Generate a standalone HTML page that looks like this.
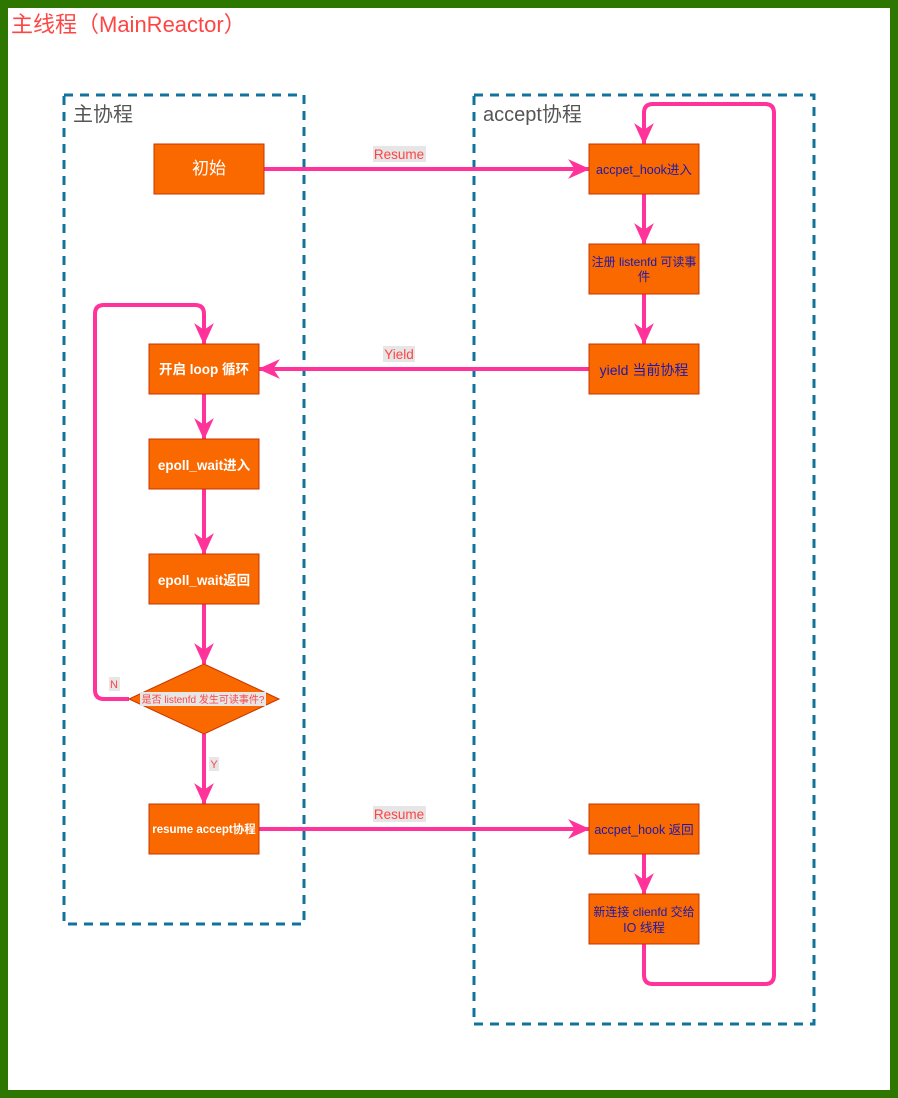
<!DOCTYPE html>
<html><head><meta charset="utf-8"><style>
html,body{margin:0;padding:0;background:#fff}
svg{display:block}
text{font-family:"Liberation Sans","Noto Sans CJK SC",sans-serif}
</style></head><body>
<svg width="898" height="1098" viewBox="0 0 898 1098" xmlns="http://www.w3.org/2000/svg">
<defs>
<marker id="a" viewBox="0 0 20 20" refX="19" refY="10" markerWidth="22" markerHeight="22" markerUnits="userSpaceOnUse" orient="auto">
<polygon points="0,1 20,10 0,19 6,10" fill="#FF3399"/>
</marker>
</defs>
<rect x="4" y="4" width="890" height="1090" fill="#fff" stroke="#2D7600" stroke-width="8"/>
<text x="11" y="32" font-size="22" fill="#FF4444">主线程（MainReactor）</text>

<rect x="64" y="95" width="240" height="829" fill="none" stroke="#10739E" stroke-width="3" stroke-dasharray="9,7"/>
<rect x="474" y="95" width="340" height="929" fill="none" stroke="#10739E" stroke-width="3" stroke-dasharray="9,7"/>
<text x="73" y="121" font-size="20" fill="#555">主协程</text>
<text x="483" y="121" font-size="20" fill="#555">accept协程</text>

<g fill="none" stroke="#FF3399" stroke-width="4" stroke-linejoin="round">
<path d="M264,169 H589" marker-end="url(#a)"/>
<path d="M644,194 V244" marker-end="url(#a)"/>
<path d="M644,294 V344" marker-end="url(#a)"/>
<path d="M589,369 H259" marker-end="url(#a)"/>
<path d="M204,394 V439" marker-end="url(#a)"/>
<path d="M204,489 V554" marker-end="url(#a)"/>
<path d="M204,604 V664" marker-end="url(#a)"/>
<path d="M204,734 V804" marker-end="url(#a)"/>
<path d="M259,829 H589" marker-end="url(#a)"/>
<path d="M644,854 V894" marker-end="url(#a)"/>
<path d="M129,699 H104 Q95,699 95,690 V314 Q95,305 104,305 H195 Q204,305 204,314 V344" marker-end="url(#a)"/>
<path d="M644,944 V975 Q644,984 653,984 H765 Q774,984 774,975 V113 Q774,104 765,104 H653 Q644,104 644,113 V144" marker-end="url(#a)"/>
</g>

<g fill="#FA6800" stroke="#C73500" stroke-width="1">
<rect x="154" y="144" width="110" height="50"/>
<rect x="589" y="144" width="110" height="50"/>
<rect x="589" y="244" width="110" height="50"/>
<rect x="589" y="344" width="110" height="50"/>
<rect x="149" y="344" width="110" height="50"/>
<rect x="149" y="439" width="110" height="50"/>
<rect x="149" y="554" width="110" height="50"/>
<polygon points="204,664 279,699 204,734 129,699"/>
<rect x="149" y="804" width="110" height="50"/>
<rect x="589" y="804" width="110" height="50"/>
<rect x="589" y="894" width="110" height="50"/>
</g>

<g font-size="17" fill="#fff" text-anchor="middle">
<text x="209" y="174">初始</text>
</g>
<g font-size="13.5" fill="#fff" text-anchor="middle" font-weight="bold">
<text x="204" y="374">开启 loop 循环</text>
<text x="204" y="470">epoll_wait进入</text>
<text x="204" y="585">epoll_wait返回</text>
<text x="204" y="833" font-size="11.5">resume accept协程</text>
</g>
<g font-size="12.5" fill="#1A1AB0" text-anchor="middle">
<text x="644" y="174">accpet_hook进入</text>
<text x="644" y="266" font-size="12">注册 listenfd 可读事</text>
<text x="644" y="281">件</text>
<text x="644" y="375" font-size="14">yield 当前协程</text>
<text x="644" y="834">accpet_hook 返回</text>
<text x="644" y="916" font-size="12">新连接 clienfd 交给</text>
<text x="644" y="932">IO 线程</text>
</g>

<rect x="140" y="692" width="126" height="14" fill="#e6e6e6"/>
<text x="203" y="703" font-size="10" fill="#FF4444" text-anchor="middle">是否 listenfd 发生可读事件?</text>

<g font-size="13.5" fill="#FF4444" text-anchor="middle">
<rect x="373" y="146" width="53" height="16" fill="#e6e6e6"/>
<text x="399" y="159">Resume</text>
<rect x="383" y="346" width="32" height="16" fill="#e6e6e6"/>
<text x="399" y="359">Yield</text>
<rect x="373" y="806" width="53" height="16" fill="#e6e6e6"/>
<text x="399" y="819">Resume</text>
<rect x="109" y="677" width="11" height="14" fill="#e6e6e6"/>
<text x="114" y="688" font-size="11">N</text>
<rect x="209" y="757" width="10" height="14" fill="#e6e6e6"/>
<text x="214" y="768" font-size="11">Y</text>
</g>
</svg>
</body></html>
